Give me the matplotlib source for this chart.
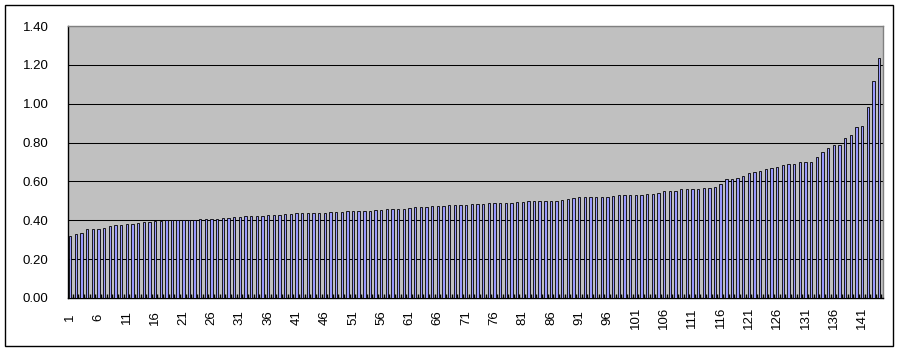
import matplotlib
matplotlib.use('Agg')
import matplotlib.pyplot as plt
import numpy as np
from matplotlib.patches import Rectangle

plt.rcParams['font.family'] = ['Liberation Sans', 'DejaVu Sans']

# ---- data ----
categories = list(range(1, 145))
values = [
    0.319, 0.329, 0.335, 0.353, 0.353, 0.353, 0.360, 0.371, 0.374, 0.374,
    0.381, 0.381, 0.386, 0.391, 0.391, 0.398, 0.398, 0.400, 0.400, 0.400,
    0.400, 0.400, 0.400, 0.405, 0.406, 0.406, 0.408, 0.412, 0.412, 0.416,
    0.416, 0.420, 0.420, 0.421, 0.424, 0.425, 0.425, 0.428, 0.431, 0.434,
    0.436, 0.436, 0.436, 0.436, 0.436, 0.436, 0.443, 0.443, 0.443, 0.448,
    0.448, 0.448, 0.448, 0.448, 0.453, 0.453, 0.458, 0.458, 0.458, 0.458,
    0.463, 0.468, 0.468, 0.468, 0.474, 0.474, 0.474, 0.479, 0.479, 0.479,
    0.479, 0.484, 0.484, 0.484, 0.489, 0.489, 0.489, 0.489, 0.489, 0.494,
    0.494, 0.499, 0.499, 0.499, 0.499, 0.499, 0.499, 0.504, 0.510, 0.515,
    0.520, 0.520, 0.518, 0.518, 0.518, 0.518, 0.523, 0.528, 0.528, 0.528,
    0.528, 0.528, 0.534, 0.534, 0.540, 0.549, 0.549, 0.549, 0.559, 0.559,
    0.559, 0.559, 0.564, 0.564, 0.570, 0.585, 0.611, 0.611, 0.616, 0.628,
    0.642, 0.647, 0.652, 0.662, 0.667, 0.674, 0.683, 0.688, 0.688, 0.698,
    0.698, 0.698, 0.724, 0.750, 0.770, 0.786, 0.786, 0.823, 0.838, 0.880,
    0.884, 0.981, 1.117, 1.234,
]
yticks = [0.0, 0.2, 0.4, 0.6, 0.8, 1.0, 1.2, 1.4]
label_every = 5

# ---- figure ----
W, H, DPI = 899, 351, 100
fig = plt.figure(figsize=(W / DPI, H / DPI), dpi=DPI)
fig.patch.set_facecolor('white')

# outer chart border
fig.patches.append(Rectangle((5 / W, 1 - 346 / H), (893 - 5) / W, (346 - 5) / H,
                             transform=fig.transFigure, fill=False,
                             edgecolor='black', linewidth=1.0))

left, right, top, bottom = 68, 882.5, 26, 298
ax = fig.add_axes([left / W, 1 - bottom / H, (right - left) / W, (bottom - top) / H])
ax.set_facecolor('#C0C0C0')

x = np.array(categories, dtype=float)
bar_w = 0.42
ax.bar(x - 0.32, values, width=bar_w, align='edge', color='#9999FF',
       edgecolor='black', linewidth=0.6, zorder=3)

ax.set_xlim(0.5, len(categories) + 0.5)
ax.set_ylim(0, 1.4)

ax.set_yticks(yticks)
ax.set_yticklabels(['%.2f' % v for v in yticks])
ax.yaxis.grid(True, color='black', linewidth=0.75, zorder=1)
ax.set_axisbelow(True)

lab_pos = [c - 0.11 for c in categories if (c - 1) % label_every == 0]
lab_txt = [str(c) for c in categories if (c - 1) % label_every == 0]
ax.set_xticks(lab_pos)
ax.set_xticklabels(lab_txt, rotation=90, va='center', ha='center')
ax.set_xticks([c + 0.32 for c in categories], minor=True)

ax.tick_params(axis='y', length=0, pad=14, labelsize=9.5, colors='black')
ax.tick_params(axis='x', which='major', length=0, pad=14, labelsize=9.5)
ax.tick_params(axis='x', which='minor', direction='in', length=3,
               width=1.0, color='black')

for s in ['top', 'right']:
    ax.spines[s].set_color('#808080')
    ax.spines[s].set_linewidth(1.0)
for s in ['left', 'bottom']:
    ax.spines[s].set_color('black')
    ax.spines[s].set_linewidth(1.0)

fig.savefig('out.png', dpi=DPI)
